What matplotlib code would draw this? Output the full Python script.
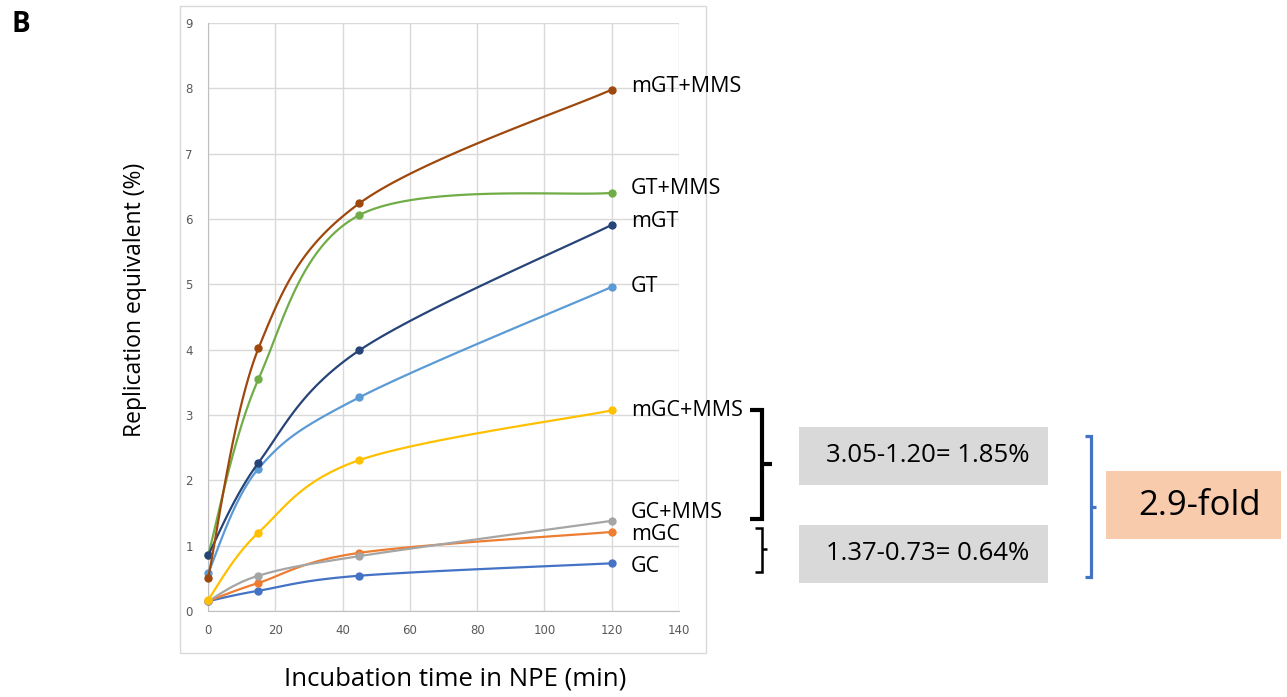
import numpy as np
import matplotlib.pyplot as plt
from matplotlib.lines import Line2D
from matplotlib.patches import Rectangle

# Zeiten (min) und Werte (%)
times = [0, 15, 45, 120]
mgt_mms = [0.50, 4.02, 6.24, 7.98]
gt_mms = [0.85, 3.55, 6.06, 6.40]
mgt = [0.85, 2.27, 3.99, 5.91]
gt = [0.58, 2.18, 3.27, 4.96]
mgc_mms = [0.17, 1.20, 2.31, 3.07]
gc_mms = [0.15, 0.54, 0.84, 1.38]
mgc = [0.15, 0.43, 0.89, 1.21]
gc = [0.15, 0.31, 0.54, 0.73]

# Reihenfolge wie im Original gezeichnet (spaetere liegen oben)
series = [
    ("GC", gc, "#4472C4"),
    ("mGC", mgc, "#ED7D31"),
    ("GC+MMS", gc_mms, "#A5A5A5"),
    ("mGC+MMS", mgc_mms, "#FFC000"),
    ("GT", gt, "#5B9BD5"),
    ("GT+MMS", gt_mms, "#70AD47"),
    ("mGT", mgt, "#264478"),
    ("mGT+MMS", mgt_mms, "#9E480E"),
]

box_texts = ["3.05-1.20= 1.85%", "1.37-0.73= 0.64%"]
fold_text = "2.9-fold"

W, H = 1287, 697


def fx(px):
    return px / W


def fy(py):
    return 1 - py / H


def smooth(x, y, n=40):
    # Bezier-Glaettung wie in Excel
    p = np.column_stack([x, y]).astype(float)
    out = []
    for i in range(len(p) - 1):
        p0 = p[i - 1] if i > 0 else p[i]
        p1 = p[i]
        p2 = p[i + 1]
        p3 = p[i + 2] if i + 2 < len(p) else p[i + 1]
        c1 = p1 + (p2 - p0) / 6
        c2 = p2 - (p3 - p1) / 6
        t = np.linspace(0, 1, n)[:, None]
        seg = ((1 - t) ** 3) * p1 + 3 * ((1 - t) ** 2) * t * c1 + 3 * (1 - t) * t ** 2 * c2 + t ** 3 * p2
        out.append(seg if i == 0 else seg[1:])
    out = np.vstack(out)
    return out[:, 0], out[:, 1]


fig = plt.figure(figsize=(W / 100, H / 100), dpi=100)
ax = fig.add_axes([fx(208), fy(611), fx(679) - fx(208), fy(23) - fy(611)])

for k, (name, vals, col) in enumerate(series):
    sx, sy = smooth(times, vals)
    ax.plot(sx, sy, color=col, lw=1.6, clip_on=False, zorder=3 + k * 0.1)
    ax.plot(times, vals, "o", color=col, ms=5, clip_on=False, zorder=3.05 + k * 0.1)

ax.set_xlim(0, 140)
ax.set_ylim(0, 9)
ax.set_xticks(range(0, 141, 20))
ax.set_yticks(range(0, 10))
ax.grid(True, color="#D9D9D9", lw=1)
ax.set_axisbelow(True)
for s in ["top", "right"]:
    ax.spines[s].set_visible(False)
for s in ["left", "bottom"]:
    ax.spines[s].set_color("#BFBFBF")
ax.tick_params(length=0, labelsize=8.5, labelcolor="#595959")
ax.tick_params(axis="y", pad=11)
ax.tick_params(axis="x", pad=9)

# Rahmen um das Diagramm
fig.patches.append(Rectangle((fx(180), fy(653)), fx(706) - fx(180), fy(6) - fy(653),
                             transform=fig.transFigure, fill=False, ec="#D9D9D9", lw=1))

# Beschriftungen der Kurven
label_py = {"mGT+MMS": 87, "GT+MMS": 188, "mGT": 221, "GT": 287,
            "mGC+MMS": 410, "GC+MMS": 512, "mGC": 535, "GC": 567}
for name, vals, col in series:
    fig.text(fx(631), fy(label_py[name]), name, fontsize=15.5, family="Open Sans",
             va="center", ha="left")

fig.text(fx(135), fy(300), "Replication equivalent (%)", rotation=90, fontsize=16.5,
         family="Open Sans", ha="center", va="center")
fig.text(fx(455), fy(679), "Incubation time in NPE (min)", fontsize=18.5,
         family="Open Sans", ha="center", va="center")
fig.text(fx(12), fy(24), "B", fontsize=20, fontweight="bold", family="Open Sans",
         ha="left", va="center")


def line(xs, ys, col, lw):
    fig.add_artist(Line2D([fx(v) for v in xs], [fy(v) for v in ys], color=col, lw=lw,
                          solid_joinstyle="miter", solid_capstyle="butt"))


# schwarze Klammern
line([750, 762, 762, 750], [410, 410, 519, 519], "black", 3)
line([762, 772], [464, 464], "black", 3)
line([755, 762, 762, 755], [528, 528, 572, 572], "black", 1.8)
line([762, 767], [549, 549], "black", 1.8)
# blaue Klammer
line([1085, 1091, 1091, 1085], [436, 436, 577, 577], "#4472C4", 2.3)
line([1091, 1096], [507, 507], "#4472C4", 2.3)

# graue Kaesten
for (py0, py1), txt in zip([(427, 485), (525, 583)], box_texts):
    fig.patches.append(Rectangle((fx(799), fy(py1)), fx(1048) - fx(799), fy(py0) - fy(py1),
                                 transform=fig.transFigure, color="#D9D9D9", lw=0))
    fig.text(fx(928), fy((py0 + py1) / 2), txt, fontsize=18.5, family="Open Sans",
             ha="center", va="center")

fig.patches.append(Rectangle((fx(1106), fy(539)), fx(1281) - fx(1106), fy(471) - fy(539),
                             transform=fig.transFigure, color="#F8CBAD", lw=0))
fig.text(fx(1200), fy(506), fold_text, fontsize=25, family="Open Sans", ha="center", va="center")

fig.savefig("out.png", dpi=100)
